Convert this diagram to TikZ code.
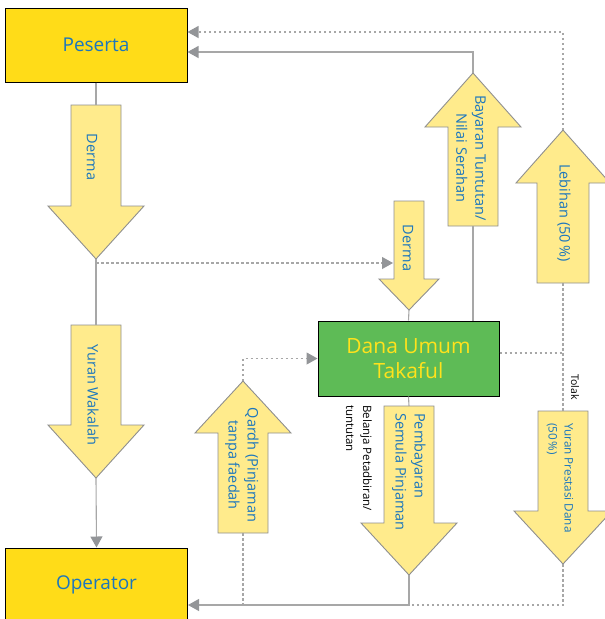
\documentclass[tikz,border=0pt]{standalone}
\usepackage{fontspec}
\setmainfont{Open Sans}
\usetikzlibrary{positioning,
                arrows.meta}                % arrow tips

\definecolor{boxyellow}{HTML}{FFDC18}
\definecolor{danagreen}{HTML}{5EBB56}
\definecolor{danatext}{HTML}{FFE21C}
\definecolor{arrowfill}{HTML}{FFEB8C}
\definecolor{arrowedge}{HTML}{8F8F8F}
\definecolor{labelblue}{HTML}{1B76BD}
\definecolor{flowgray}{HTML}{A7A7A7}
\definecolor{tipgray}{HTML}{939598}

% block arrow: name, x, start, base of head, tip, half shaft, half head
\newcommand{\bigarrow}[7]{%
  \draw[blockarrow] (#2-#6,#3) -- (#2+#6,#3) -- (#2+#6,#4) -- (#2+#7,#4)
    -- (#2,#5) -- (#2-#7,#4) -- (#2-#6,#4) -- cycle;
  \coordinate (#1-start) at (#2,#3);
  \coordinate (#1-tip) at (#2,#5);
}

\begin{document}
\begin{tikzpicture}[x=1pt, y=-1pt,
    entity/.style={draw=black, line width=1pt, fill=boxyellow, text=labelblue,
                   minimum width=182pt, minimum height=74pt,
                   font=\fontsize{19}{23}\selectfont},
    fund/.style={draw=black, line width=1pt, fill=danagreen, text=danatext,
                 minimum width=181pt, minimum height=75pt, align=center,
                 font=\fontsize{21}{25}\selectfont},
    blockarrow/.style={draw=arrowedge, line width=0.9pt, fill=arrowfill},
    arrowtext/.style={rotate=-90, text=labelblue, inner sep=0pt,
                      font=\fontsize{14.5}{19}\selectfont},
    smalltext/.style={rotate=-90, text=black, inner sep=0pt, anchor=west,
                      align=left, font=\fontsize{11.5}{17}\selectfont},
    flow/.style={draw=flowgray, line width=1.1pt},
    flowdash/.style={flow, dash pattern=on 2.5pt off 2.5pt},
    tip/.style={-{Triangle[length=11pt, width=12pt, color=tipgray]}}
  ]
  \useasboundingbox (0,0) rectangle (605,619);

  % boxes
  \node[entity] (peserta) at (96,45) {Peserta};
  \node[entity] (operator) at (96.5,585) {Operator};
  \node[fund] (dana) at (408.5,358.5) {Dana Umum\\Takaful};

  % block arrows
  \bigarrow{dermaA}{96}{105}{206}{259}{25}{48}
  \bigarrow{wakalah}{96}{325}{425}{478}{25}{48}
  \bigarrow{dermaB}{409}{201}{279}{310}{15}{30}
  \bigarrow{bayaran}{473}{226}{127}{73}{25}{48}
  \bigarrow{lebihan}{563}{283}{183}{130}{26}{47}
  \bigarrow{qardh}{243}{533}{433}{381}{25}{48}
  \bigarrow{pembayaran}{409}{406}{523}{575}{25}{48}
  \bigarrow{prestasi}{563}{411}{511}{564}{25}{49}

  % labels in the arrows
  \node[arrowtext] (dermaAlabel) at (92,157) {Derma};
  \node[arrowtext] (wakalahlabel) at (93,395) {Yuran Wakalah};
  \node[arrowtext] (dermaBlabel) at (408,248) {Derma};
  \node[arrowtext, align=center] (bayaranlabel) at (471,158)
       {Bayaran Tuntutan/\\Nilai Serahan};
  \node[arrowtext] (lebihanlabel) at (564,213) {Lebihan (50\,\%)};
  \node[arrowtext, align=center] (qardhlabel) at (242,465)
       {Qardh (Pinjaman\\tanpa faedah};
  \node[arrowtext, anchor=west, align=left] (pembayaranlabel) at (409,413)
       {Pembayaran\\Semula Pinjaman};
  \node[arrowtext, anchor=west, align=left, font=\fontsize{11.7}{16}\selectfont]
       (prestasilabel) at (560,423) {Yuran Prestasi Dana\\(50\,\%)};
  \node[smalltext] (belanjalabel) at (359,405) {Belanja Petadbiran/\\tuntutan};
  \node[smalltext, font=\fontsize{10.5}{13}\selectfont] (tolaklabel) at (575,374) {Tolak};

  % joints
  \coordinate (dermaflow) at (96,263);
  \coordinate (dermain) at (393,263);
  \coordinate (tolakjoin) at (563,353);
  \coordinate (payjoin) at (409,605);

  % connectors
  \draw[flow] (peserta.south) -- (dermaA-start);
  \draw[flow] (dermaA-tip) -- (wakalah-start);
  \draw[flow, tip] (wakalah-tip) -- (operator.north);
  \draw[flowdash, tip] (dermaflow) -- (dermain);
  \draw[flow] (dermaB-tip) -- (dana.north);
  \draw[flow] (dana.north -| bayaran-start) -- (bayaran-start);
  \draw[flow, tip] (bayaran-tip) |- ([yshift=-7pt]peserta.east);
  \draw[flowdash, tip] (lebihan-tip) |- ([yshift=13pt]peserta.east);
  \draw[flowdash] (lebihan-start) -- (prestasi-start);
  \draw[flowdash] (dana.east |- tolakjoin) -- (tolakjoin);
  \draw[flow] (dana.south) -- (pembayaran-start);
  \draw[flow, tip] (pembayaran-tip) -- (payjoin) -- (payjoin -| operator.east);
  \draw[flowdash] (prestasi-tip) |- (payjoin);
  \draw[flowdash] (qardh-start) -- (qardh-start |- payjoin);
  \draw[flowdash, tip] (qardh-tip) |- (dana.west);
\end{tikzpicture}
\end{document}
